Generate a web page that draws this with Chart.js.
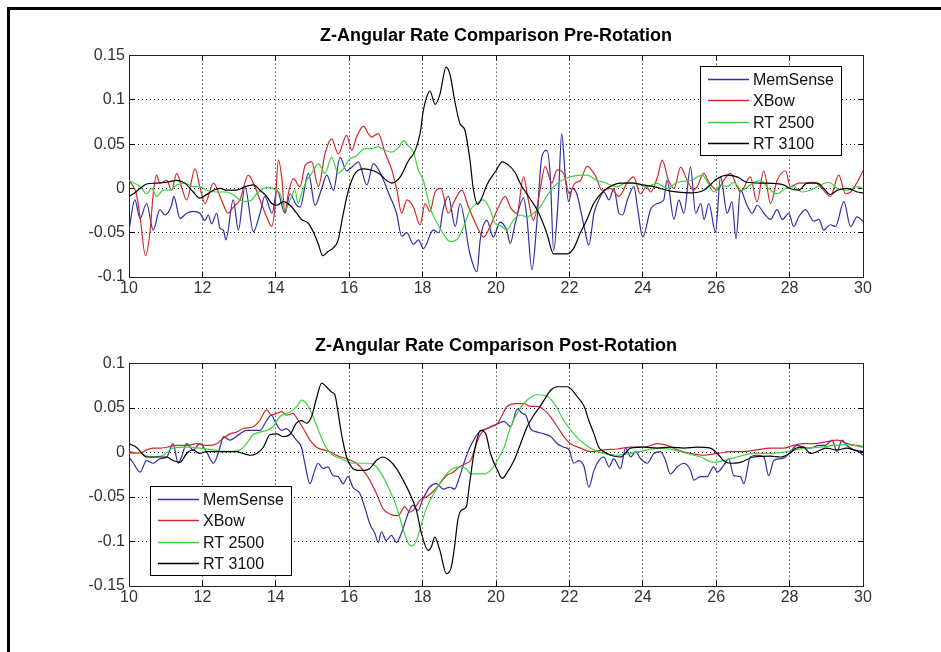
<!DOCTYPE html>
<html>
<head>
<meta charset="utf-8">
<script src="https://cdn.jsdelivr.net/npm/chart.js@4.4.0/dist/chart.umd.min.js"></script>
<style>
  html, body { margin: 0; padding: 0; background: #fff; }
  body { width: 941px; height: 652px; position: relative; overflow: hidden; }
  #frame { position: absolute; left: 7px; top: 7px; width: 1000px; height: 700px;
           border-left: 3px solid #000; border-top: 3px solid #000; }
  canvas { position: absolute; left: 0; }
  #pre { top: 0; }
  #post { top: 320px; }
</style>
</head>
<body>
<div id="frame"></div>
<canvas id="pre" width="941" height="320"></canvas>
<canvas id="post" width="941" height="332"></canvas>
<script>
// tick values
const xTicks = [10, 12, 14, 16, 18, 20, 22, 24, 26, 28, 30];
const preYTicks = [-0.1, -0.05, 0, 0.05, 0.1, 0.15];
const postYTicks = [-0.15, -0.1, -0.05, 0, 0.05, 0.1];
const seriesNames = ['MemSense', 'XBow', 'RT 2500', 'RT 3100'];
const seriesColors = ['#2e2ea6', '#d02a2a', '#3cd43c', '#000000'];

// ---- Pre-Rotation ----
const preMemX = [10,10.16,10.3,10.48,10.66,10.84,10.98,11.16,11.22,11.39,11.57,11.75,11.93,12.07,12.16,12.25,12.39,12.48,12.57,12.64,12.84,12.98,13.16,13.39,13.57,13.7,13.9,14.03,14.25,14.39,14.55,14.66,14.89,15.07,15.25,15.39,15.57,15.75,15.93,16.1,16.25,16.48,16.66,16.84,17.11,17.29,17.43,17.57,17.75,17.89,18.02,18.29,18.45,18.55,18.7,18.89,19.02,19.29,19.48,19.57,19.75,19.93,20.11,20.29,20.39,20.52,20.75,20.84,20.98,21.11,21.25,21.39,21.48,21.57,21.7,21.79,21.89,21.98,22.08,22.2,22.4,22.53,22.67,22.8,22.94,23.08,23.21,23.35,23.45,23.58,23.76,23.85,24,24.21,24.4,24.57,24.66,24.85,24.98,25.12,25.3,25.44,25.58,25.67,25.8,25.98,26.12,26.3,26.43,26.54,26.66,26.84,26.98,27.12,27.3,27.48,27.66,27.8,27.98,28.11,28.25,28.43,28.66,28.8,28.93,29.11,29.25,29.48,29.66,29.84,30];
const preMemY = [-0.047,-0.013,-0.034,-0.017,-0.047,-0.024,-0.030,-0.019,-0.009,-0.034,-0.028,-0.026,-0.028,-0.036,-0.030,-0.040,-0.028,-0.045,-0.047,-0.058,-0.013,-0.047,0.002,-0.049,-0.028,-0.009,-0.028,-0.002,-0.028,-0.006,-0.018,-0.021,0.017,-0.019,0.000,0.015,-0.002,0.035,0.020,0.025,0.030,0.004,0.028,0.018,-0.009,-0.028,-0.054,-0.050,-0.063,-0.058,-0.068,-0.047,-0.050,-0.025,-0.009,-0.043,-0.017,-0.074,-0.094,-0.058,-0.036,-0.055,-0.038,-0.047,-0.062,-0.040,-0.011,-0.032,-0.092,-0.040,0.036,0.043,0.013,-0.070,-0.009,0.062,0.013,-0.015,0.000,-0.006,-0.043,-0.064,-0.028,-0.013,-0.004,-0.013,0.000,-0.028,-0.030,-0.013,0.002,-0.020,-0.055,-0.024,-0.017,-0.013,0.009,-0.035,-0.013,-0.028,0.024,-0.028,-0.017,-0.035,-0.017,-0.049,0.013,-0.028,-0.015,-0.057,-0.002,-0.019,-0.028,-0.019,-0.028,-0.035,-0.024,-0.035,-0.028,-0.043,-0.032,-0.024,-0.037,-0.035,-0.047,-0.041,-0.043,-0.015,-0.043,-0.032,-0.037];

const preXbowX = [10,10.12,10.2,10.3,10.45,10.57,10.66,10.75,10.84,11.03,11.16,11.3,11.43,11.57,11.8,11.93,12.07,12.3,12.52,12.7,12.84,13.02,13.25,13.39,13.57,13.75,13.89,13.98,14.07,14.16,14.25,14.34,14.48,14.66,14.8,14.98,15.16,15.34,15.52,15.7,15.93,16.07,16.2,16.39,16.52,16.61,16.79,16.98,17.16,17.3,17.43,17.57,17.75,17.93,18.07,18.2,18.34,18.5,18.7,18.88,19.07,19.25,19.48,19.66,19.84,20.07,20.25,20.4,20.57,20.75,20.88,21.02,21.2,21.34,21.52,21.66,21.84,22,22.15,22.3,22.48,22.7,22.89,23.12,23.35,23.57,23.75,23.93,24.1,24.21,24.4,24.53,24.7,24.85,25.03,25.21,25.39,25.48,25.66,25.8,26.03,26.2,26.39,26.57,26.66,26.93,27.11,27.3,27.48,27.66,27.89,28.02,28.25,28.43,28.66,28.84,29.11,29.34,29.52,29.66,29.84,30];
const preXbowY = [0.009,0.002,-0.006,-0.032,-0.076,-0.050,-0.006,0.015,0.006,0.009,-0.002,0.017,0.002,-0.013,0.022,0.002,-0.017,0.006,-0.013,-0.028,-0.021,-0.013,0.015,0.006,-0.013,-0.032,-0.043,-0.020,0.032,0.013,-0.028,-0.006,0.011,0.002,0.026,0.030,0.002,0.039,0.056,0.039,0.060,0.043,0.058,0.070,0.062,0.058,0.062,0.040,0.021,-0.002,-0.028,-0.013,-0.021,-0.041,-0.017,-0.026,-0.004,0.000,-0.028,-0.013,-0.002,-0.021,-0.043,-0.055,-0.043,-0.021,-0.009,-0.022,-0.028,0.013,-0.013,-0.036,-0.002,0.025,0.006,0.021,0.017,-0.006,0.006,0.009,0.025,0.015,-0.002,0.000,-0.009,0.006,0.013,-0.006,0.002,-0.004,0.013,0.032,0.009,0.000,0.024,0.009,-0.002,0.002,0.017,0.007,-0.002,0.009,0.017,0.002,-0.004,0.013,-0.015,0.020,-0.017,0.009,0.020,0.002,0.006,0.006,0.007,0.002,-0.009,0.015,-0.006,-0.004,0.007,0.020];

const preRt25X = [10,10.3,10.48,10.62,10.75,10.93,11.12,11.3,11.52,11.75,11.93,12.11,12.39,12.66,12.84,13.02,13.16,13.34,13.48,13.66,13.84,14,14.12,14.25,14.39,14.52,14.61,14.7,14.84,14.98,15.16,15.34,15.52,15.7,15.84,15.98,16.2,16.43,16.61,16.79,16.98,17.16,17.34,17.48,17.61,17.75,17.89,18.02,18.2,18.38,18.56,18.75,18.93,19.1,19.29,19.47,19.66,19.84,19.98,20.12,20.29,20.47,20.66,20.84,21.02,21.2,21.38,21.57,21.79,22.02,22.29,22.48,22.75,22.94,23.3,23.57,23.84,24.12,24.39,24.66,24.94,25.3,25.62,25.8,25.94,26.12,26.3,26.48,26.7,26.93,27.2,27.43,27.66,27.89,28.11,28.34,28.57,28.84,29.07,29.3,29.57,29.84,30];
const preRt25Y = [0.009,0.002,-0.006,0.000,-0.009,-0.002,-0.002,0.004,0.006,0.002,0.002,-0.002,-0.004,-0.004,-0.007,-0.013,-0.015,-0.013,-0.006,0.000,0.001,-0.002,-0.006,-0.024,-0.013,-0.002,-0.017,-0.006,0.009,0.017,0.028,0.017,0.035,0.017,0.022,0.032,0.037,0.045,0.045,0.047,0.043,0.041,0.046,0.054,0.048,0.041,0.020,0.009,-0.021,-0.038,-0.051,-0.060,-0.058,-0.045,-0.025,-0.017,-0.013,-0.024,-0.040,-0.042,-0.047,-0.036,-0.030,-0.032,-0.028,-0.021,-0.009,0.002,0.009,0.013,0.015,0.015,0.009,0.007,0.002,0.007,0.005,0.002,0.006,0.000,0.007,0.009,0.015,0.004,-0.004,0.004,0.002,0.007,-0.002,0.004,0.009,0.000,-0.006,0.000,0.002,-0.004,-0.002,0.004,0.007,0.000,-0.002,0.002,0.000];

const preRt31X = [10,10.12,10.3,10.48,10.75,11.03,11.3,11.52,11.75,11.93,12.11,12.3,12.48,12.66,12.93,13.16,13.39,13.57,13.75,13.89,14.03,14.2,14.39,14.57,14.7,14.88,15.02,15.16,15.28,15.43,15.57,15.7,15.84,15.98,16.16,16.39,16.66,16.84,17.02,17.16,17.39,17.61,17.8,17.93,18.02,18.11,18.2,18.34,18.47,18.64,18.75,18.88,19.02,19.15,19.29,19.38,19.5,19.62,19.75,20,20.17,20.35,20.52,20.67,20.9,21.13,21.38,21.57,21.93,22.11,22.29,22.48,22.66,22.84,23.02,23.2,23.38,23.75,24,24.3,24.75,25.3,25.66,26.03,26.3,26.57,26.84,27.3,27.84,28,28.25,28.48,28.75,28.93,29.11,29.3,29.57,29.84,30];
const preRt31Y = [-0.009,-0.006,0.000,0.005,0.006,0.007,0.009,0.006,-0.004,-0.011,-0.007,-0.002,0.000,-0.002,-0.002,0.002,0.004,-0.002,-0.009,-0.017,-0.019,-0.015,-0.019,-0.028,-0.035,-0.039,-0.049,-0.063,-0.076,-0.071,-0.067,-0.058,-0.028,-0.002,0.017,0.022,0.020,0.016,0.009,0.006,0.013,0.031,0.043,0.062,0.088,0.103,0.110,0.095,0.106,0.137,0.128,0.098,0.073,0.066,0.032,0.000,-0.018,-0.010,0.004,0.020,0.030,0.026,0.018,0.005,-0.010,-0.025,-0.050,-0.074,-0.074,-0.068,-0.051,-0.035,-0.017,-0.007,0.000,0.004,0.006,0.006,0.004,0.002,-0.003,-0.005,-0.002,0.011,0.015,0.013,0.007,0.006,0.004,0.000,-0.002,0.006,0.006,0.000,-0.007,-0.002,0.000,-0.004,-0.005];

// ---- Post-Rotation ----
const postMemX = [10,10.12,10.3,10.48,10.66,10.84,11.03,11.2,11.34,11.43,11.57,11.75,11.93,12.11,12.3,12.48,12.57,12.75,13.02,13.2,13.39,13.57,13.75,13.88,14,14.16,14.29,14.43,14.56,14.7,14.79,14.93,15.06,15.15,15.29,15.42,15.56,15.7,15.83,15.97,16.1,16.29,16.42,16.56,16.7,16.79,16.88,17.01,17.15,17.29,17.42,17.51,17.6,17.74,17.87,18.01,18.19,18.38,18.56,18.74,18.87,19.01,19.15,19.28,19.54,19.76,19.99,20.22,20.4,20.58,20.72,20.81,20.94,21.13,21.31,21.49,21.67,21.85,21.99,22.12,22.26,22.4,22.53,22.67,22.8,22.94,23.08,23.21,23.39,23.53,23.67,23.8,23.94,24.12,24.3,24.48,24.62,24.75,24.94,25.12,25.3,25.39,25.57,25.75,25.93,26.03,26.21,26.34,26.48,26.66,26.75,26.93,27.11,27.3,27.43,27.57,27.75,27.89,28.02,28.2,28.38,28.57,28.79,28.97,29.16,29.29,29.43,29.56,29.75,29.88,30];
const postMemY = [-0.005,-0.012,-0.022,-0.009,-0.012,-0.007,-0.005,0.010,-0.012,-0.005,0.010,0.003,0.010,0.001,-0.012,0.006,0.018,0.014,0.021,0.025,0.025,0.025,0.036,0.042,0.033,0.025,0.027,0.021,0.014,0.006,-0.012,-0.035,-0.020,-0.012,-0.018,-0.016,-0.026,-0.027,-0.035,-0.027,-0.039,-0.046,-0.061,-0.080,-0.091,-0.101,-0.089,-0.099,-0.093,-0.101,-0.091,-0.080,-0.069,-0.059,-0.065,-0.052,-0.039,-0.035,-0.041,-0.039,-0.041,-0.027,-0.009,0.005,0.023,0.027,0.031,0.035,0.029,0.049,0.044,0.042,0.027,0.023,0.021,0.018,0.010,0.006,0.003,-0.012,-0.009,-0.016,-0.039,-0.020,-0.009,-0.005,-0.016,-0.007,-0.018,0.005,-0.005,0.001,-0.007,-0.012,-0.001,0.001,-0.009,-0.024,-0.016,-0.012,-0.020,-0.031,-0.027,-0.027,-0.016,-0.022,-0.014,-0.007,-0.026,-0.027,-0.035,-0.005,-0.003,-0.005,-0.026,-0.009,-0.007,-0.005,0.001,0.008,0.006,0.005,0.008,0.008,0.014,0.001,0.014,0.008,0.003,0.001,-0.003];

const postXbowX = [10,10.3,10.48,10.66,10.84,11.03,11.3,11.57,11.84,12.11,12.39,12.57,12.75,12.93,13.11,13.38,13.56,13.75,13.88,14.02,14.16,14.29,14.47,14.61,14.75,14.93,15.11,15.29,15.47,15.65,15.93,16.2,16.38,16.56,16.74,16.92,17.1,17.33,17.51,17.65,17.78,17.92,18.1,18.28,18.47,18.65,18.83,19.01,19.19,19.31,19.45,19.58,19.85,20.04,20.31,20.54,20.76,20.94,21.12,21.31,21.49,21.67,21.85,22.03,22.3,22.58,22.94,23.3,23.67,24.03,24.39,24.66,24.94,25.3,25.66,26.02,26.38,26.74,27.1,27.48,27.84,28.11,28.38,28.66,28.99,29.3,29.57,29.84,30];
const postXbowY = [0.001,-0.001,0.003,0.005,0.005,0.006,0.008,0.008,0.010,0.008,0.010,0.016,0.021,0.023,0.027,0.029,0.036,0.048,0.042,0.044,0.046,0.042,0.044,0.036,0.027,0.014,0.006,0.003,0.001,-0.003,-0.007,-0.012,-0.020,-0.031,-0.046,-0.063,-0.069,-0.071,-0.061,-0.067,-0.063,-0.054,-0.050,-0.044,-0.035,-0.026,-0.022,-0.016,-0.012,-0.009,0.008,0.021,0.029,0.033,0.052,0.055,0.055,0.052,0.052,0.048,0.040,0.029,0.018,0.010,0.005,0.001,0.003,0.004,0.006,0.006,0.010,0.008,0.003,-0.001,-0.003,-0.001,0.001,0.001,0.003,0.005,0.005,0.008,0.010,0.010,0.012,0.014,0.010,0.008,0.007];

const postRt25X = [10,10.3,10.57,10.93,11.2,11.57,11.93,12.3,12.66,13.02,13.2,13.38,13.56,13.75,13.93,14.1,14.29,14.47,14.6,14.7,14.84,15.02,15.2,15.38,15.56,15.79,15.97,16.2,16.38,16.56,16.74,16.92,17.1,17.29,17.47,17.6,17.7,17.83,17.97,18.1,18.28,18.47,18.65,18.83,19.01,19.19,19.31,19.67,19.85,20.04,20.22,20.4,20.63,20.85,21.12,21.4,21.62,21.85,22.12,22.4,22.67,22.94,23.3,23.67,24.12,24.48,24.84,25.2,25.57,25.94,26.2,26.57,27.02,27.48,27.93,28.38,28.84,29.2,29.57,30];
const postRt25Y = [-0.001,-0.001,-0.005,-0.003,0.005,0.006,0.005,0.003,0.001,0.003,0.010,0.020,0.023,0.025,0.029,0.040,0.044,0.048,0.053,0.059,0.055,0.040,0.021,0.005,-0.003,-0.007,-0.011,-0.012,-0.012,-0.012,-0.016,-0.027,-0.042,-0.061,-0.086,-0.101,-0.105,-0.099,-0.080,-0.063,-0.048,-0.035,-0.024,-0.018,-0.016,-0.018,-0.024,-0.024,-0.020,-0.009,0.006,0.029,0.048,0.059,0.065,0.063,0.053,0.036,0.021,0.010,0.003,-0.001,-0.003,-0.001,0.003,0.005,0.003,-0.001,-0.005,-0.011,-0.009,-0.005,-0.001,-0.001,0.001,0.005,0.006,0.008,0.009,0.006];

const postRt31X = [10,10.2,10.48,10.84,11.03,11.2,11.39,11.57,11.75,11.93,12.11,12.39,12.66,12.93,13.11,13.3,13.48,13.66,13.84,14.02,14.2,14.38,14.56,14.7,14.84,14.97,15.11,15.25,15.38,15.52,15.61,15.7,15.79,15.93,16.06,16.24,16.42,16.56,16.74,16.92,17.1,17.29,17.47,17.65,17.83,17.97,18.15,18.24,18.33,18.47,18.65,18.78,18.87,18.96,19.05,19.19,19.28,19.4,19.58,19.72,19.85,20.04,20.17,20.31,20.49,20.67,20.85,21.03,21.17,21.31,21.49,21.67,21.94,22.08,22.21,22.4,22.53,22.67,22.8,22.94,23.12,23.39,23.67,24.03,24.39,24.75,25.12,25.48,25.84,26.03,26.2,26.38,26.66,27.02,27.48,27.75,28,28.18,28.38,28.57,28.75,28.99,29.29,29.56,29.75,30];
const postRt31Y = [0.010,0.006,-0.005,-0.005,-0.005,-0.009,-0.011,-0.001,0.003,-0.001,0.001,0.001,0.001,0.001,-0.001,-0.003,-0.001,0.006,0.020,0.021,0.018,0.020,0.033,0.036,0.033,0.040,0.061,0.078,0.074,0.068,0.065,0.044,0.021,-0.005,-0.016,-0.020,-0.020,-0.018,-0.009,-0.005,-0.009,-0.018,-0.031,-0.046,-0.065,-0.091,-0.110,-0.106,-0.095,-0.110,-0.136,-0.129,-0.106,-0.076,-0.065,-0.061,-0.035,-0.001,0.025,0.021,-0.001,-0.020,-0.029,-0.022,-0.009,0.010,0.029,0.042,0.050,0.059,0.070,0.074,0.074,0.070,0.063,0.052,0.036,0.021,0.006,0.001,-0.003,-0.005,0.005,0.006,0.005,0.006,0.005,0.006,0.005,-0.001,-0.009,-0.012,-0.011,-0.005,-0.004,-0.005,-0.001,0.005,0.006,-0.001,0.001,0.005,0.003,0.005,0.003,0.001];

const FONT = "'Liberation Sans', Arial, Helvetica, sans-serif";

function pts(xs, ys) {
  return xs.map((x, i) => ({ x: x, y: ys[i] }));
}

// legend drawn as a boxed MATLAB-style legend inside the axes
const boxLegend = {
  id: 'boxLegend',
  afterDraw(chart, args, opts) {
    const ctx = chart.ctx, a = chart.chartArea;
    const w = 141, h = 89;
    const left = Math.round(opts.corner === 'tr' ? a.right - 22 - w : a.left + 21);
    const top = Math.round(opts.corner === 'tr' ? a.top + 10 : a.bottom - 11 - h);
    ctx.save();
    ctx.fillStyle = '#fff';
    ctx.fillRect(left, top, w, h);
    ctx.strokeStyle = '#000';
    ctx.lineWidth = 1;
    ctx.strokeRect(left + 0.5, top + 0.5, w, h);
    ctx.font = '16px ' + FONT;
    ctx.textBaseline = 'middle';
    chart.data.datasets.forEach((ds, i) => {
      const y = Math.round(top + 13 + i * 21.3) + 0.5;
      ctx.strokeStyle = ds.borderColor;
      ctx.lineWidth = 1.3;
      ctx.beginPath();
      ctx.moveTo(left + 8, y);
      ctx.lineTo(left + 49, y);
      ctx.stroke();
      ctx.fillStyle = '#111';
      ctx.fillText(ds.label, left + 53, y + 1);
    });
    ctx.restore();
  }
};

function axisX(pos) {
  return {
    type: 'linear', position: pos, min: 10, max: 30,
    afterBuildTicks: s => { s.ticks = xTicks.map(v => ({ value: v })); },
    ticks: { display: pos === 'bottom', autoSkip: false, maxRotation: 0, padding: 7,
             color: '#333', font: { size: 16, family: FONT }, callback: v => String(v) },
    grid: { drawOnChartArea: pos === 'bottom', color: '#000', lineWidth: 1, tickLength: -5, tickColor: '#000' },
    border: { color: '#222', width: 1, dash: [1, 3] }
  };
}

function axisY(pos, yTicks) {
  return {
    type: 'linear', position: pos, min: yTicks[0], max: yTicks[yTicks.length - 1],
    afterBuildTicks: s => { s.ticks = yTicks.map(v => ({ value: v })); },
    ticks: { display: pos === 'left', autoSkip: false, padding: 9,
             color: '#333', font: { size: 16, family: FONT }, callback: v => String(v) },
    grid: { drawOnChartArea: pos === 'left', color: '#000', lineWidth: 1, tickLength: -5, tickColor: '#000' },
    border: { color: '#222', width: 1, dash: [1, 3] }
  };
}

function makeChart(id, title, xs, ys, yTicks, corner, titlePad, xAxisHeight) {
  const sets = seriesNames.map((name, i) => ({
    label: name,
    data: pts(xs[i], ys[i]),
    borderColor: seriesColors[i],
    borderWidth: 1.2,
    pointRadius: 0,
    fill: false,
    cubicInterpolationMode: 'monotone',
    order: seriesNames.length - i
  }));
  const x = axisX('bottom'), x2 = axisX('top');
  const y = axisY('left', yTicks), y2 = axisY('right', yTicks);
  x.afterFit = s => { s.height = xAxisHeight; };
  x2.afterFit = s => { s.height = 0; };
  y.afterFit = s => { s.width = 129; };
  y2.afterFit = s => { s.width = 0; };
  return new Chart(document.getElementById(id), {
    type: 'line',
    data: { datasets: sets },
    options: {
      responsive: false,
      animation: false,
      layout: { padding: { left: 0, right: 78, top: 0, bottom: 0 } },
      scales: { x: x, x2: x2, y: y, y2: y2 },
      plugins: {
        legend: { display: false },
        tooltip: { enabled: false },
        title: { display: true, fullSize: false, text: title, color: '#000',
                 font: { size: 18, weight: 'bold', family: FONT }, padding: titlePad },
        boxLegend: { corner: corner }
      }
    },
    plugins: [boxLegend]
  });
}

makeChart('pre', 'Z-Angular Rate Comparison Pre-Rotation',
  [preMemX, preXbowX, preRt25X, preRt31X],
  [preMemY, preXbowY, preRt25Y, preRt31Y],
  preYTicks, 'tr', { top: 25, bottom: 9 }, 43);

makeChart('post', 'Z-Angular Rate Comparison Post-Rotation',
  [postMemX, postXbowX, postRt25X, postRt31X],
  [postMemY, postXbowY, postRt25Y, postRt31Y],
  postYTicks, 'bl', { top: 15, bottom: 7 }, 66);
</script>
</body>
</html>
